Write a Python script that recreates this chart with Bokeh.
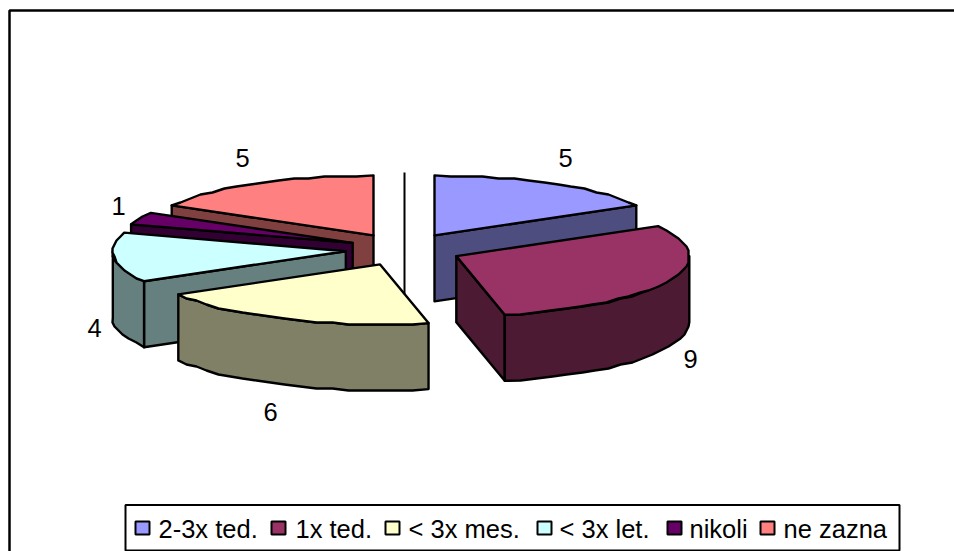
import math

from bokeh.core.properties import value
from bokeh.embed import file_html
from bokeh.models import Range1d
from bokeh.plotting import figure
from bokeh.resources import INLINE

# Pie data
categories = ["2-3x ted.", "1x ted.", "< 3x mes.", "< 3x let.", "nikoli", "ne zazna"]
counts = [5, 9, 6, 4, 1, 5]

# Slice colours: lit top faces and shaded walls
top_colors = ["#9999FF", "#993366", "#FFFFCC", "#CCFFFF", "#660066", "#FF8080"]
wall_colors = ["#4D4D80", "#4D1A33", "#808066", "#668080", "#330033", "#804040"]

# Projection of the tilted, exploded pie, in page pixels
CENTER_X, CENTER_Y = 404, 249
RADIUS_X, RADIUS_Y = 233, 60
EXPLODE_X, EXPLODE_Y = 60, 16.3
DEPTH = 66
INK = "#000000"

# Small horizontal correction to each slice's exploded position
apex_nudge_x = [0, -3, 0, 1, 3, -1]

# Label anchors for each slice's value
value_label_x = [565, 690, 270, 94, 118, 242]
value_label_y = [157, 358, 411, 327, 205, 157]

# Legend layout
legend_swatch_x = [135, 271, 385, 537, 667, 760]
legend_text_x = [158, 295, 408, 559, 689, 783]

FONT = value("Liberation Sans")
FONT_SIZE = value("25.5px")
EDGE_WIDTH = 2.4

p = figure(
    width=954,
    height=551,
    output_backend="svg",
    toolbar_location=None,
    x_range=Range1d(0, 954),
    y_range=Range1d(551, 0),
    min_border=0,
    outline_line_color=None,
    background_fill_color="white",
    border_fill_color="white",
)
p.axis.visible = False
p.grid.visible = False


def rim_points(apex, start, stop, step=4.0):
    """Points on the elliptical rim between two clock angles in degrees.

    Interior points are snapped to a coarse grid, giving the rim the stepped
    outline of a low-resolution metafile curve.
    """
    n = max(2, int(abs(stop - start) / step) + 1)
    angles = [start + (stop - start) * i / (n - 1) for i in range(n)]
    points = []
    for k, a in enumerate(angles):
        x = apex[0] + RADIUS_X * math.sin(math.radians(a))
        y = apex[1] - RADIUS_Y * math.cos(math.radians(a))
        if 0 < k < n - 1:
            x = round(x / 2) * 2
            y = round(y / 2) * 2
        points.append((x, y))
    return points


def face(points, color):
    xs = [pt[0] for pt in points]
    ys = [pt[1] for pt in points]
    p.patch(xs, ys, fill_color=color, line_color=INK, line_width=EDGE_WIDTH, line_join="round")


# Angular extent of every slice, clockwise from twelve o'clock
total = sum(counts)
slices = []
running = 0
for i, count in enumerate(counts):
    start = 360 * running / total
    stop = 360 * (running + count) / total
    mid = math.radians((start + stop) / 2)
    apex = (
        CENTER_X + EXPLODE_X * math.sin(mid) + apex_nudge_x[i],
        CENTER_Y - EXPLODE_Y * math.cos(mid),
    )
    slices.append((i, start, stop, apex))
    running += count

# Chart frame: only the top and left rules are inside the page
p.line([9, 9, 954], [551, 10, 10], line_color=INK, line_width=2.5)

# Vertical rule through the pie's centre
p.line([CENTER_X, CENTER_X], [172, 300], line_color=INK, line_width=2)


def draw_slice(i, start, stop, apex):
    # Radial cut walls that turn towards the viewer
    cuts = []
    if 180 < start < 360:
        cuts.append(start)
    if 0 < stop < 180:
        cuts.append(stop)
    for angle in cuts:
        edge = rim_points(apex, angle, angle)[0]
        face(
            [apex, edge, (edge[0], edge[1] + DEPTH), (apex[0], apex[1] + DEPTH)],
            wall_colors[i],
        )
    # Curved outer wall on the near half of the ellipse
    near_start = max(start, 90)
    near_stop = min(stop, 270)
    if near_stop > near_start:
        rim = rim_points(apex, near_start, near_stop)
        lower = [(x, y + DEPTH) for x, y in reversed(rim)]
        face(rim + lower, wall_colors[i])
    # Top face
    face([apex] + rim_points(apex, start, stop), top_colors[i])


# Back slices first so the nearer ones overlap them
for index in (5, 0, 4, 3, 1, 2):
    draw_slice(*slices[index])

# Value labels
p.text(
    value_label_x,
    value_label_y,
    text=[str(c) for c in counts],
    text_font=FONT,
    text_font_size=FONT_SIZE,
    text_color=INK,
    text_align="center",
    text_baseline="middle",
)

# Legend box, swatches and labels
p.patch(
    [125, 899, 899, 125],
    [504.5, 504.5, 550, 550],
    fill_color="white",
    line_color=INK,
    line_width=2,
)
for sx, color in zip(legend_swatch_x, top_colors):
    p.patch(
        [sx, sx + 14, sx + 14, sx],
        [521, 521, 534, 534],
        fill_color=color,
        line_color=INK,
        line_width=2,
    )
p.text(
    legend_text_x,
    [528] * len(categories),
    text=categories,
    text_font=FONT,
    text_font_size=FONT_SIZE,
    text_color=INK,
    text_align="left",
    text_baseline="middle",
)

open("out.html", "w").write(file_html(p, INLINE))
